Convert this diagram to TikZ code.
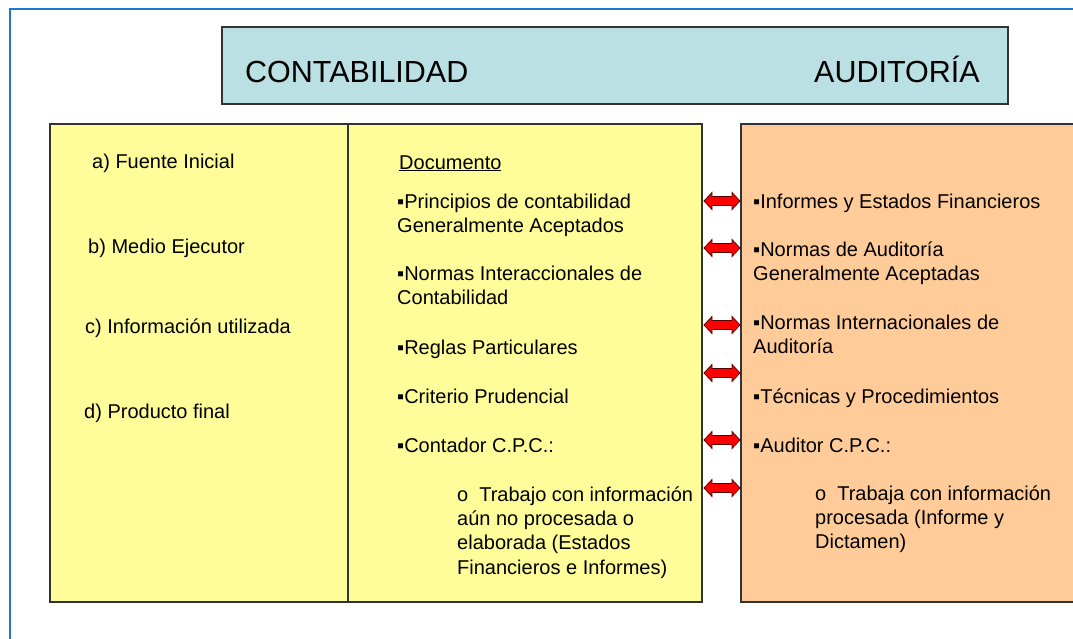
\documentclass[tikz,border=0pt]{standalone}
\usepackage{fontspec}
\setmainfont{Liberation Sans}
\usetikzlibrary{calc}
\definecolor{celeste}{RGB}{186,224,228}
\definecolor{amarillo}{RGB}{255,253,153}
\definecolor{naranja}{RGB}{255,204,153}
\definecolor{marco}{RGB}{30,120,210}
\tikzset{
  texto/.style={anchor=base west,inner sep=0pt,align=left,
    font=\fontsize{20}{24.4}\selectfont},
  titulo/.style={anchor=base west,inner sep=0pt,
    font=\fontsize{30.5}{36}\selectfont},
  caja/.style={draw=black!80,line width=1.5pt},
  flecharoja/.style={fill=red,draw=red!35!black,line width=0.8pt}
}
% flecha doble entre las dos cajas
\newcommand{\flecha}[1]{%
  \draw[flecharoja] (704,#1) -- ++(8,-8.5) -- ++(0,4) -- ++(20,0)
    -- ++(0,-4) -- ++(8,8.5) -- ++(-8,8.5) -- ++(0,-4) -- ++(-20,0)
    -- ++(0,4) -- cycle;}

\begin{document}
\begin{tikzpicture}[x=1pt,y=-1pt]
  \useasboundingbox[fill=white] (0,0) rectangle (1073,638);
  \draw[marco,line width=2pt] (10,640) -- (10,9) -- (1075,9);

  % cabecera
  \draw[caja,fill=celeste] (222,27) rectangle (1008,104);
  \node[titulo] (conta) at (245,82) {CONTABILIDAD};
  \node[titulo] (audi) at (814,82) {AUDITORÍA};

  % cajas
  \draw[caja,fill=amarillo] (50,124) rectangle (702,602);
  \draw[caja] (348,124) -- (348,602);
  \draw[caja,fill=naranja] (741,124) rectangle (1076,602);

  % columna izquierda
  \node[texto] (fuente) at (92,168) {a) Fuente Inicial};
  \node[texto] (medio) at (88,253) {b) Medio Ejecutor};
  \node[texto] (info) at (85,333) {c) Información utilizada};
  \node[texto] (prod) at (84,418) {d) Producto final};

  % columna central (base = ultima linea)
  \node[texto] (doc) at (399,169) {\underline{Documento}};
  \node[texto] (pcga) at (397,232.4) {▪Principios de contabilidad\\Generalmente Aceptados};
  \node[texto] (nic) at (397,304.4) {▪Normas Interaccionales de\\Contabilidad};
  \node[texto] (reglas) at (397,354) {▪Reglas Particulares};
  \node[texto] (criterio) at (397,403) {▪Criterio Prudencial};
  \node[texto] (contador) at (397,452) {▪Contador C.P.C.:};
  \node[texto] (trabajo) at (457,574.2) {o\hspace{11pt}Trabajo con información\\aún no procesada o\\elaborada (Estados\\Financieros e Informes)};

  % columna derecha
  \node[texto] (informes) at (753,208) {▪Informes y Estados Financieros};
  \node[texto] (ngaa) at (753,280.4) {▪Normas de Auditoría\\Generalmente Aceptadas};
  \node[texto] (nia) at (753,353.4) {▪Normas Internacionales de\\Auditoría};
  \node[texto] (tecnicas) at (753,403) {▪Técnicas y Procedimientos};
  \node[texto] (auditor) at (753,452) {▪Auditor C.P.C.:};
  \node[texto] (trabaja) at (815,548.8) {o\hspace{11pt}Trabaja con información\\procesada (Informe y\\Dictamen)};

  % flechas
  \foreach \y in {201,248,325,373,440,488}
    \flecha{\y};
\end{tikzpicture}
\end{document}
